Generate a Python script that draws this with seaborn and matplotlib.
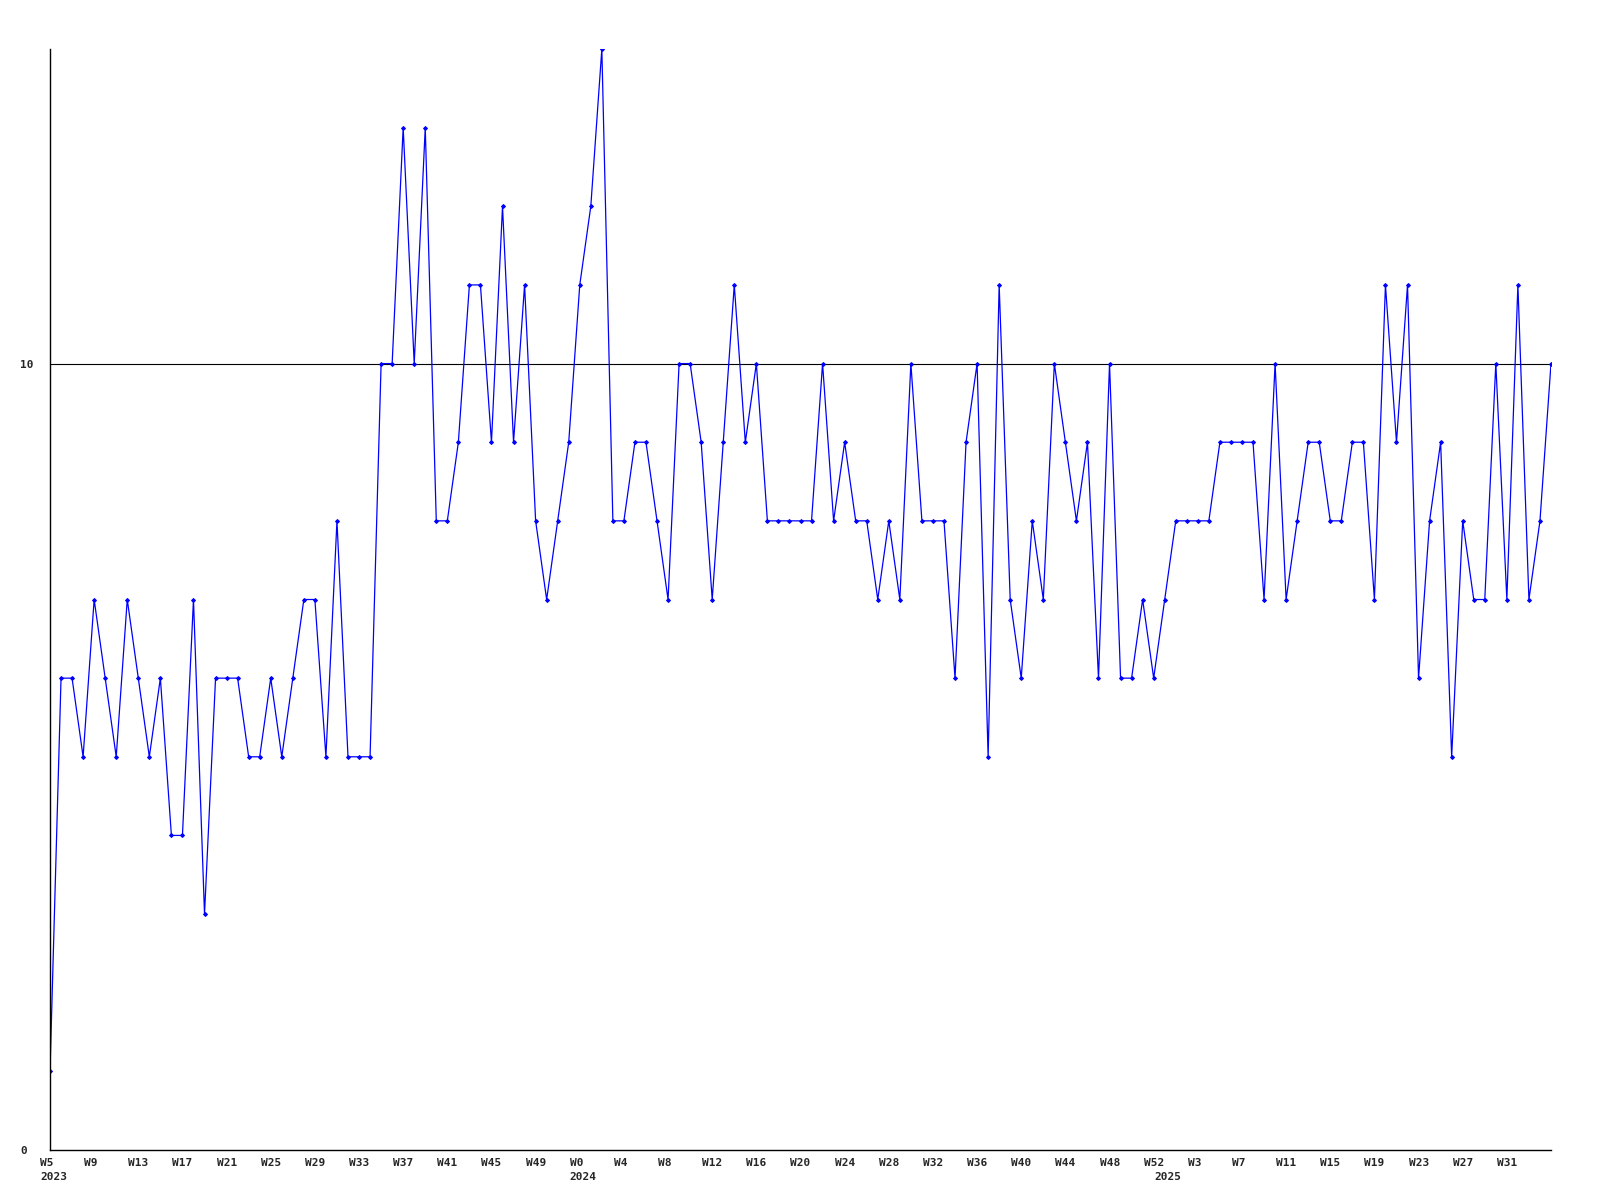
import matplotlib
matplotlib.use("Agg")
import matplotlib.pyplot as plt
import matplotlib.transforms as mtransforms
import seaborn as sns
import pandas as pd

# ---- data ----
values = [
    1, 6, 6, 5, 7, 6, 5, 7, 6, 5,
    6, 4, 4, 7, 3, 6, 6, 6, 5, 5,
    6, 5, 6, 7, 7, 5, 8, 5, 5, 5,
    10, 10, 13, 10, 13, 8, 8, 9, 11, 11,
    9, 12, 9, 11, 8, 7, 8, 9, 11, 12,
    14, 8, 8, 9, 9, 8, 7, 10, 10, 9,
    7, 9, 11, 9, 10, 8, 8, 8, 8, 8,
    10, 8, 9, 8, 8, 7, 8, 7, 10, 8,
    8, 8, 6, 9, 10, 5, 11, 7, 6, 8,
    7, 10, 9, 8, 9, 6, 10, 6, 6, 7,
    6, 7, 8, 8, 8, 8, 9, 9, 9, 9,
    7, 10, 7, 8, 9, 9, 8, 8, 9, 9,
    7, 11, 9, 11, 6, 8, 9, 5, 8, 7,
    7, 10, 7, 11, 7, 8, 10,
]
week_index = list(range(len(values)))

tick_positions = list(range(0, 133, 4))
tick_labels = ["W5", "W9", "W13", "W17", "W21", "W25", "W29", "W33",
               "W37", "W41", "W45", "W49", "W0", "W4", "W8", "W12",
               "W16", "W20", "W24", "W28", "W32", "W36", "W40", "W44",
               "W48", "W52", "W3", "W7", "W11", "W15", "W19", "W23",
               "W27", "W31"]
year_positions = [0, 48, 101]
year_labels = ["2023", "2024", "2025"]

y_ticks = [0, 10]
y_tick_labels = ["0", "10"]
reference_level = 10

df = pd.DataFrame({"week": week_index, "value": values})

# ---- figure ----
sns.set_style("white")
plt.rcParams["font.family"] = ["DejaVu Sans Mono", "DejaVu Sans"]

W, H = 1600, 1200
fig = plt.figure(figsize=(16, 12), dpi=100)
left, right, top, bottom = 50, 1551, 49, 1150
ax = fig.add_axes([left / W, 1 - bottom / H, (right - left) / W, (bottom - top) / H])

sns.lineplot(data=df, x="week", y="value", ax=ax, color="#0000ff",
             linewidth=0.9, marker="D", markersize=2.0,
             markeredgecolor="#0000ff", markerfacecolor="#0000ff")

ax.axhline(reference_level, color="black", linewidth=0.8, zorder=0)

ax.set_xlim(0, len(values) - 1)
ax.set_ylim(0, 14)
ax.set_xlabel("")
ax.set_ylabel("")

for s in ["top", "right"]:
    ax.spines[s].set_visible(False)
for s in ["left", "bottom"]:
    ax.spines[s].set_color("black")
    ax.spines[s].set_linewidth(1.0)

ax.xaxis.remove_overlapping_locs = False
ax.set_xticks(tick_positions)
ax.set_xticklabels(tick_labels)
ax.set_xticks(year_positions, minor=True)
ax.set_xticklabels(year_labels, minor=True)
ax.set_yticks(y_ticks)
ax.set_yticklabels(y_tick_labels)

ax.tick_params(axis="both", which="both", length=0)
ax.tick_params(axis="x", which="major", pad=5.8)
ax.tick_params(axis="x", which="minor", pad=15.8)
ax.tick_params(axis="y", pad=21.6)

shift = mtransforms.ScaledTranslation(-10 / 100, 0, fig.dpi_scale_trans)
for lab in ax.get_xticklabels() + ax.get_xticklabels(minor=True):
    lab.set_horizontalalignment("left")
    lab.set_transform(lab.get_transform() + shift)
    lab.set_fontsize(8)
    lab.set_fontweight("bold")
for lab in ax.get_yticklabels():
    lab.set_horizontalalignment("left")
    lab.set_fontsize(8)
    lab.set_fontweight("bold")

ax.grid(False)
fig.savefig("out.png", dpi=100, facecolor="white")
